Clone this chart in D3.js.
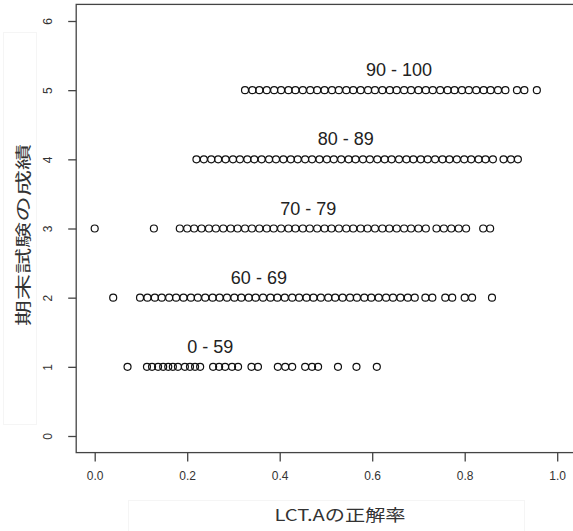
<!DOCTYPE html>
<html>
<head>
<meta charset="utf-8">
<script src="https://cdn.jsdelivr.net/npm/d3@7"></script>
<style>
  body { margin: 0; background: #fff; }
  text { font-family: "Liberation Sans", Arial, sans-serif; }
  .jp { font-family: "Noto Sans CJK JP", sans-serif; }
</style>
</head>
<body>
<div id="chart"></div>
<script>
// grade groups (y value) and their labels
const grades = [1, 2, 3, 4, 5]
const gradeLabels = ["0 - 59", "60 - 69", "70 - 79", "80 - 89", "90 - 100"]
// where each label sits (data units, x)
const labelX = [0.25, 0.355, 0.462, 0.543, 0.658]

// LCT.A accuracy of each student, per grade group
const g1 = [0.071, 0.113, 0.124, 0.137, 0.148, 0.159, 0.169, 0.18, 0.195, 0.206, 0.217, 0.228,
  0.256, 0.269, 0.282, 0.297, 0.31, 0.339, 0.353, 0.396, 0.412, 0.427, 0.455, 0.47, 0.483,
  0.526, 0.566, 0.61]
const g2 = [0.04, 0.098, 0.114, 0.13, 0.145, 0.161, 0.176, 0.192, 0.208, 0.223, 0.239, 0.255,
  0.27, 0.286, 0.302, 0.317, 0.333, 0.348, 0.364, 0.38, 0.395, 0.411, 0.427, 0.442, 0.458,
  0.473, 0.489, 0.505, 0.52, 0.536, 0.552, 0.567, 0.583, 0.598, 0.614, 0.63, 0.645, 0.661,
  0.677, 0.692, 0.715, 0.73, 0.758, 0.773, 0.8, 0.816, 0.859]
const g3 = [0.0, 0.128, 0.184, 0.2, 0.215, 0.231, 0.247, 0.262, 0.278, 0.294, 0.309, 0.325,
  0.34, 0.356, 0.372, 0.387, 0.403, 0.419, 0.434, 0.45, 0.465, 0.481, 0.497, 0.512, 0.528,
  0.544, 0.559, 0.575, 0.59, 0.606, 0.622, 0.637, 0.653, 0.669, 0.684, 0.7, 0.716, 0.739,
  0.755, 0.771, 0.787, 0.803, 0.84, 0.855]
const g4 = [0.22, 0.236, 0.252, 0.267, 0.283, 0.299, 0.314, 0.33, 0.345, 0.361, 0.377, 0.392,
  0.408, 0.424, 0.439, 0.455, 0.47, 0.486, 0.502, 0.517, 0.533, 0.549, 0.564, 0.58, 0.595,
  0.611, 0.627, 0.642, 0.658, 0.674, 0.689, 0.705, 0.72, 0.736, 0.752, 0.767, 0.783, 0.799,
  0.814, 0.83, 0.845, 0.861, 0.884, 0.9, 0.915]
const g5 = [0.325, 0.341, 0.356, 0.372, 0.388, 0.403, 0.419, 0.434, 0.45, 0.466, 0.481, 0.497,
  0.513, 0.528, 0.544, 0.559, 0.575, 0.591, 0.606, 0.622, 0.638, 0.653, 0.669, 0.684, 0.7,
  0.716, 0.731, 0.747, 0.763, 0.778, 0.794, 0.809, 0.825, 0.841, 0.856, 0.872, 0.888,
  0.913, 0.929, 0.956]
const groups = [g1, g2, g3, g4, g5]

const xTicks = [0, 0.2, 0.4, 0.6, 0.8, 1.0]
const yTicks = [0, 1, 2, 3, 4, 5, 6]

const width = 573, height = 531

const x = d3.scaleLinear().domain([0, 1]).range([94.7, 557.2])
const y = d3.scaleLinear().domain([0, 6]).range([436, 21])

// R style plot region, 4% padding each side
const boxLeft = x(-0.04), boxRight = x(1.04), boxTop = y(6.24), boxBottom = y(-0.24)

const svg = d3.select("#chart")
  .append("svg")
  .attr("width", width)
  .attr("height", height)

// faint boxes of the pasted axis titles
svg.append("rect")
  .attr("x", 3.5).attr("y", 32.5).attr("width", 33).attr("height", 392)
  .attr("fill", "none").attr("stroke", "#f5f5f5")
svg.append("rect")
  .attr("x", 128.5).attr("y", 500.5).attr("width", 396).attr("height", 40)
  .attr("fill", "none").attr("stroke", "#f5f5f5")

// plot box
svg.append("rect")
  .attr("x", boxLeft).attr("y", boxTop)
  .attr("width", boxRight - boxLeft).attr("height", boxBottom - boxTop)
  .attr("fill", "none").attr("stroke", "#444").attr("stroke-width", 1.3)

const xAxis = svg.append("g")
  .attr("transform", `translate(0,${boxBottom})`)
  .call(d3.axisBottom(x).tickValues(xTicks).tickFormat(d3.format(".1f")).tickSize(9).tickPadding(10))
xAxis.select(".domain").remove()
xAxis.selectAll("line").attr("stroke", "#444").attr("stroke-width", 1.3)
xAxis.selectAll("text").attr("font-size", 12).attr("fill", "#333")
  .attr("font-family", "Liberation Sans, Arial, sans-serif")

const yAxis = svg.append("g")
  .attr("transform", `translate(${boxLeft},0)`)
  .call(d3.axisLeft(y).tickValues(yTicks).tickSize(8).tickFormat(d3.format("d")))
yAxis.select(".domain").remove()
yAxis.selectAll("line").attr("stroke", "#444").attr("stroke-width", 1.3)
yAxis.selectAll("text")
  .attr("font-size", 12).attr("fill", "#333")
  .attr("font-family", "Liberation Sans, Arial, sans-serif")
  .attr("x", null).attr("dy", null)
  .attr("text-anchor", "middle")
  .attr("transform", "translate(-28,0) rotate(-90)")
  .attr("dominant-baseline", "central")

// points
groups.forEach((vals, i) => {
  svg.append("g")
    .selectAll("circle")
    .data(vals)
    .enter()
    .append("circle")
    .attr("cx", d => x(d))
    .attr("cy", y(grades[i]))
    .attr("r", 3.5)
    .attr("fill", "none")
    .attr("stroke", "#111")
    .attr("stroke-width", 1.2)
})

// group labels
svg.append("g")
  .selectAll("text")
  .data(gradeLabels)
  .enter()
  .append("text")
  .attr("x", (d, i) => x(labelX[i]))
  .attr("y", (d, i) => y(grades[i]) - 14)
  .attr("text-anchor", "middle")
  .attr("font-size", 18)
  .attr("fill", "#222")
  .text(d => d)

// axis titles
svg.append("text")
  .attr("class", "jp")
  .attr("x", 340).attr("y", 521)
  .attr("text-anchor", "middle")
  .attr("font-size", 16)
  .attr("fill", "#333")
  .attr("textLength", 131)
  .attr("lengthAdjust", "spacingAndGlyphs")
  .text("LCT.Aの正解率")

svg.append("text")
  .attr("class", "jp")
  .attr("transform", "translate(22,235) rotate(-90)")
  .attr("text-anchor", "middle")
  .attr("dominant-baseline", "central")
  .attr("font-size", 16)
  .attr("fill", "#333")
  .attr("textLength", 182)
  .attr("lengthAdjust", "spacingAndGlyphs")
  .text("期末試験の成績")
</script>
</body>
</html>
